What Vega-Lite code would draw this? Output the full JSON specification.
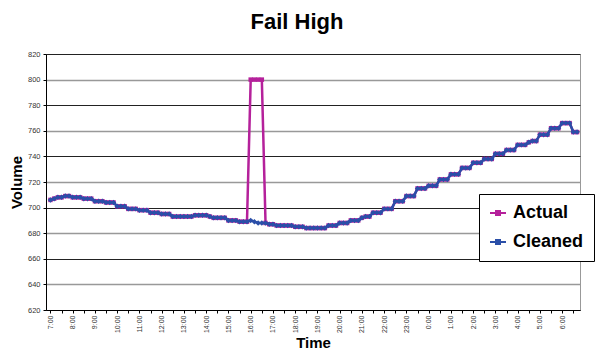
{
  "$schema": "https://vega.github.io/schema/vega-lite/v6.json",
  "width": 534,
  "height": 256,
  "autosize": {"type": "none"},
  "padding": {"left": 46, "top": 54, "right": 28, "bottom": 42},
  "background": "white",
  "config": {
    "font": "Liberation Sans",
    "view": {"stroke": "#999999", "strokeWidth": 1}
  },
  "title": {
    "text": "Fail High",
    "fontSize": 22,
    "fontWeight": "bold",
    "color": "black",
    "anchor": "middle",
    "frame": "group",
    "offset": 16,
    "dx": -16
  },
  "data": {
    "values": [
      {"t":"2024-01-01T07:00","Actual":706,"Cleaned":706},
      {"t":"2024-01-01T07:10","Actual":707,"Cleaned":707},
      {"t":"2024-01-01T07:20","Actual":708,"Cleaned":708},
      {"t":"2024-01-01T07:30","Actual":708,"Cleaned":708},
      {"t":"2024-01-01T07:40","Actual":709,"Cleaned":709},
      {"t":"2024-01-01T07:50","Actual":709,"Cleaned":709},
      {"t":"2024-01-01T08:00","Actual":708,"Cleaned":708},
      {"t":"2024-01-01T08:10","Actual":708,"Cleaned":708},
      {"t":"2024-01-01T08:20","Actual":708,"Cleaned":708},
      {"t":"2024-01-01T08:30","Actual":707,"Cleaned":707},
      {"t":"2024-01-01T08:40","Actual":707,"Cleaned":707},
      {"t":"2024-01-01T08:50","Actual":707,"Cleaned":707},
      {"t":"2024-01-01T09:00","Actual":705,"Cleaned":705},
      {"t":"2024-01-01T09:10","Actual":705,"Cleaned":705},
      {"t":"2024-01-01T09:20","Actual":705,"Cleaned":705},
      {"t":"2024-01-01T09:30","Actual":704,"Cleaned":704},
      {"t":"2024-01-01T09:40","Actual":704,"Cleaned":704},
      {"t":"2024-01-01T09:50","Actual":704,"Cleaned":704},
      {"t":"2024-01-01T10:00","Actual":701,"Cleaned":701},
      {"t":"2024-01-01T10:10","Actual":701,"Cleaned":701},
      {"t":"2024-01-01T10:20","Actual":701,"Cleaned":701},
      {"t":"2024-01-01T10:30","Actual":699,"Cleaned":699},
      {"t":"2024-01-01T10:40","Actual":699,"Cleaned":699},
      {"t":"2024-01-01T10:50","Actual":699,"Cleaned":699},
      {"t":"2024-01-01T11:00","Actual":698,"Cleaned":698},
      {"t":"2024-01-01T11:10","Actual":698,"Cleaned":698},
      {"t":"2024-01-01T11:20","Actual":698,"Cleaned":698},
      {"t":"2024-01-01T11:30","Actual":696,"Cleaned":696},
      {"t":"2024-01-01T11:40","Actual":696,"Cleaned":696},
      {"t":"2024-01-01T11:50","Actual":696,"Cleaned":696},
      {"t":"2024-01-01T12:00","Actual":695,"Cleaned":695},
      {"t":"2024-01-01T12:10","Actual":695,"Cleaned":695},
      {"t":"2024-01-01T12:20","Actual":695,"Cleaned":695},
      {"t":"2024-01-01T12:30","Actual":693,"Cleaned":693},
      {"t":"2024-01-01T12:40","Actual":693,"Cleaned":693},
      {"t":"2024-01-01T12:50","Actual":693,"Cleaned":693},
      {"t":"2024-01-01T13:00","Actual":693,"Cleaned":693},
      {"t":"2024-01-01T13:10","Actual":693,"Cleaned":693},
      {"t":"2024-01-01T13:20","Actual":693,"Cleaned":693},
      {"t":"2024-01-01T13:30","Actual":694,"Cleaned":694},
      {"t":"2024-01-01T13:40","Actual":694,"Cleaned":694},
      {"t":"2024-01-01T13:50","Actual":694,"Cleaned":694},
      {"t":"2024-01-01T14:00","Actual":694,"Cleaned":694},
      {"t":"2024-01-01T14:10","Actual":693,"Cleaned":693},
      {"t":"2024-01-01T14:20","Actual":692,"Cleaned":692},
      {"t":"2024-01-01T14:30","Actual":692,"Cleaned":692},
      {"t":"2024-01-01T14:40","Actual":692,"Cleaned":692},
      {"t":"2024-01-01T14:50","Actual":692,"Cleaned":692},
      {"t":"2024-01-01T15:00","Actual":690,"Cleaned":690},
      {"t":"2024-01-01T15:10","Actual":690,"Cleaned":690},
      {"t":"2024-01-01T15:20","Actual":690,"Cleaned":690},
      {"t":"2024-01-01T15:30","Actual":689,"Cleaned":689},
      {"t":"2024-01-01T15:40","Actual":689,"Cleaned":689},
      {"t":"2024-01-01T15:50","Actual":689,"Cleaned":689},
      {"t":"2024-01-01T16:00","Actual":800,"Cleaned":690},
      {"t":"2024-01-01T16:10","Actual":800,"Cleaned":689},
      {"t":"2024-01-01T16:20","Actual":800,"Cleaned":688},
      {"t":"2024-01-01T16:30","Actual":800,"Cleaned":688},
      {"t":"2024-01-01T16:40","Actual":688,"Cleaned":688},
      {"t":"2024-01-01T16:50","Actual":687,"Cleaned":687},
      {"t":"2024-01-01T17:00","Actual":687,"Cleaned":687},
      {"t":"2024-01-01T17:10","Actual":686,"Cleaned":686},
      {"t":"2024-01-01T17:20","Actual":686,"Cleaned":686},
      {"t":"2024-01-01T17:30","Actual":686,"Cleaned":686},
      {"t":"2024-01-01T17:40","Actual":686,"Cleaned":686},
      {"t":"2024-01-01T17:50","Actual":686,"Cleaned":686},
      {"t":"2024-01-01T18:00","Actual":685,"Cleaned":685},
      {"t":"2024-01-01T18:10","Actual":685,"Cleaned":685},
      {"t":"2024-01-01T18:20","Actual":685,"Cleaned":685},
      {"t":"2024-01-01T18:30","Actual":684,"Cleaned":684},
      {"t":"2024-01-01T18:40","Actual":684,"Cleaned":684},
      {"t":"2024-01-01T18:50","Actual":684,"Cleaned":684},
      {"t":"2024-01-01T19:00","Actual":684,"Cleaned":684},
      {"t":"2024-01-01T19:10","Actual":684,"Cleaned":684},
      {"t":"2024-01-01T19:20","Actual":684,"Cleaned":684},
      {"t":"2024-01-01T19:30","Actual":686,"Cleaned":686},
      {"t":"2024-01-01T19:40","Actual":686,"Cleaned":686},
      {"t":"2024-01-01T19:50","Actual":686,"Cleaned":686},
      {"t":"2024-01-01T20:00","Actual":688,"Cleaned":688},
      {"t":"2024-01-01T20:10","Actual":688,"Cleaned":688},
      {"t":"2024-01-01T20:20","Actual":688,"Cleaned":688},
      {"t":"2024-01-01T20:30","Actual":690,"Cleaned":690},
      {"t":"2024-01-01T20:40","Actual":690,"Cleaned":690},
      {"t":"2024-01-01T20:50","Actual":690,"Cleaned":690},
      {"t":"2024-01-01T21:00","Actual":692,"Cleaned":692},
      {"t":"2024-01-01T21:10","Actual":693,"Cleaned":693},
      {"t":"2024-01-01T21:20","Actual":693,"Cleaned":693},
      {"t":"2024-01-01T21:30","Actual":696,"Cleaned":696},
      {"t":"2024-01-01T21:40","Actual":696,"Cleaned":696},
      {"t":"2024-01-01T21:50","Actual":696,"Cleaned":696},
      {"t":"2024-01-01T22:00","Actual":699,"Cleaned":699},
      {"t":"2024-01-01T22:10","Actual":699,"Cleaned":699},
      {"t":"2024-01-01T22:20","Actual":699,"Cleaned":699},
      {"t":"2024-01-01T22:30","Actual":705,"Cleaned":705},
      {"t":"2024-01-01T22:40","Actual":705,"Cleaned":705},
      {"t":"2024-01-01T22:50","Actual":705,"Cleaned":705},
      {"t":"2024-01-01T23:00","Actual":709,"Cleaned":709},
      {"t":"2024-01-01T23:10","Actual":709,"Cleaned":709},
      {"t":"2024-01-01T23:20","Actual":709,"Cleaned":709},
      {"t":"2024-01-01T23:30","Actual":715,"Cleaned":715},
      {"t":"2024-01-01T23:40","Actual":715,"Cleaned":715},
      {"t":"2024-01-01T23:50","Actual":715,"Cleaned":715},
      {"t":"2024-01-02T00:00","Actual":717,"Cleaned":717},
      {"t":"2024-01-02T00:10","Actual":717,"Cleaned":717},
      {"t":"2024-01-02T00:20","Actual":717,"Cleaned":717},
      {"t":"2024-01-02T00:30","Actual":722,"Cleaned":722},
      {"t":"2024-01-02T00:40","Actual":722,"Cleaned":722},
      {"t":"2024-01-02T00:50","Actual":722,"Cleaned":722},
      {"t":"2024-01-02T01:00","Actual":726,"Cleaned":726},
      {"t":"2024-01-02T01:10","Actual":726,"Cleaned":726},
      {"t":"2024-01-02T01:20","Actual":726,"Cleaned":726},
      {"t":"2024-01-02T01:30","Actual":731,"Cleaned":731},
      {"t":"2024-01-02T01:40","Actual":731,"Cleaned":731},
      {"t":"2024-01-02T01:50","Actual":731,"Cleaned":731},
      {"t":"2024-01-02T02:00","Actual":735,"Cleaned":735},
      {"t":"2024-01-02T02:10","Actual":735,"Cleaned":735},
      {"t":"2024-01-02T02:20","Actual":735,"Cleaned":735},
      {"t":"2024-01-02T02:30","Actual":738,"Cleaned":738},
      {"t":"2024-01-02T02:40","Actual":738,"Cleaned":738},
      {"t":"2024-01-02T02:50","Actual":738,"Cleaned":738},
      {"t":"2024-01-02T03:00","Actual":742,"Cleaned":742},
      {"t":"2024-01-02T03:10","Actual":742,"Cleaned":742},
      {"t":"2024-01-02T03:20","Actual":742,"Cleaned":742},
      {"t":"2024-01-02T03:30","Actual":745,"Cleaned":745},
      {"t":"2024-01-02T03:40","Actual":745,"Cleaned":745},
      {"t":"2024-01-02T03:50","Actual":745,"Cleaned":745},
      {"t":"2024-01-02T04:00","Actual":749,"Cleaned":749},
      {"t":"2024-01-02T04:10","Actual":749,"Cleaned":749},
      {"t":"2024-01-02T04:20","Actual":749,"Cleaned":749},
      {"t":"2024-01-02T04:30","Actual":751,"Cleaned":751},
      {"t":"2024-01-02T04:40","Actual":752,"Cleaned":752},
      {"t":"2024-01-02T04:50","Actual":752,"Cleaned":752},
      {"t":"2024-01-02T05:00","Actual":757,"Cleaned":757},
      {"t":"2024-01-02T05:10","Actual":757,"Cleaned":757},
      {"t":"2024-01-02T05:20","Actual":757,"Cleaned":757},
      {"t":"2024-01-02T05:30","Actual":762,"Cleaned":762},
      {"t":"2024-01-02T05:40","Actual":762,"Cleaned":762},
      {"t":"2024-01-02T05:50","Actual":762,"Cleaned":762},
      {"t":"2024-01-02T06:00","Actual":766,"Cleaned":766},
      {"t":"2024-01-02T06:10","Actual":766,"Cleaned":766},
      {"t":"2024-01-02T06:20","Actual":766,"Cleaned":766},
      {"t":"2024-01-02T06:30","Actual":759,"Cleaned":759},
      {"t":"2024-01-02T06:40","Actual":759,"Cleaned":759}
    ]
  },
  "transform": [{"fold": ["Actual", "Cleaned"], "as": ["series", "value"]}],
  "encoding": {
    "x": {
      "field": "t",
      "type": "temporal",
      "scale": {
        "domain": [
          {"year": 2024, "month": 1, "date": 1, "hours": 6, "minutes": 48},
          {"year": 2024, "month": 1, "date": 2, "hours": 6, "minutes": 48}
        ]
      },
      "axis": {
        "title": "Time",
        "titleFontSize": 15,
        "titleFontWeight": "bold",
        "titleColor": "black",
        "titlePadding": 3,
        "tickCount": 48,
        "labelExpr": "minutes(datum.value) == 0 ? timeFormat(datum.value, '%-H:%M') : ''",
        "labelAngle": 270,
        "labelFontSize": 7,
        "labelColor": "#333333",
        "labelPadding": 2,
        "labelOverlap": false,
        "labelFlush": false,
        "tickSize": 3,
        "tickColor": "black",
        "domainColor": "black",
        "grid": false
      }
    },
    "y": {
      "field": "value",
      "type": "quantitative",
      "scale": {"domain": [620, 820], "nice": false, "zero": false},
      "axis": {
        "title": "Volume",
        "titleFontSize": 15,
        "titleFontWeight": "bold",
        "titleColor": "black",
        "titlePadding": 3,
        "values": [620, 640, 660, 680, 700, 720, 740, 760, 780, 800, 820],
        "labelFontSize": 7.5,
        "labelColor": "#333333",
        "labelPadding": 3,
        "tickSize": 3,
        "tickColor": "black",
        "domainColor": "black",
        "grid": true,
        "gridColor": {"condition": {"test": "datum.value % 40 == 0", "value": "#999999"}, "value": "#222222"},
        "gridWidth": {"condition": {"test": "datum.value % 40 == 0", "value": 1.6}, "value": 1}
      }
    },
    "color": {
      "field": "series",
      "type": "nominal",
      "scale": {"domain": ["Actual", "Cleaned"], "range": ["#b5219b", "#2b4fa8"]},
      "legend": {
        "title": null,
        "orient": "none",
        "legendX": 433,
        "legendY": 140,
        "fillColor": "white",
        "strokeColor": "black",
        "padding": 10,
        "labelFontSize": 18,
        "labelFontWeight": "bold",
        "labelColor": "black",
        "labelOffset": 6,
        "rowPadding": 11,
        "symbolType": "M-1,0H1M-0.25,-0.25H0.25V0.25H-0.25Z",
        "symbolSize": 256,
        "symbolStrokeWidth": 2
      }
    }
  },
  "layer": [
    {
      "transform": [{"filter": "datum.series == 'Actual'"}],
      "mark": {"type": "line", "strokeWidth": 2.5},
      "encoding": {"x": {"field": "t", "type": "temporal"}}
    },
    {
      "transform": [{"filter": "datum.series == 'Actual'"}],
      "mark": {"type": "point", "shape": "square", "size": 20, "filled": true, "opacity": 1},
      "encoding": {"x": {"field": "t", "type": "temporal"}}
    },
    {
      "transform": [{"filter": "datum.series == 'Cleaned'"}],
      "mark": {"type": "line", "strokeWidth": 2.5},
      "encoding": {"x": {"field": "t", "type": "temporal"}}
    },
    {
      "transform": [{"filter": "datum.series == 'Cleaned'"}],
      "mark": {"type": "point", "shape": "diamond", "size": 30, "filled": true, "opacity": 1},
      "encoding": {"x": {"field": "t", "type": "temporal"}}
    }
  ]
}
